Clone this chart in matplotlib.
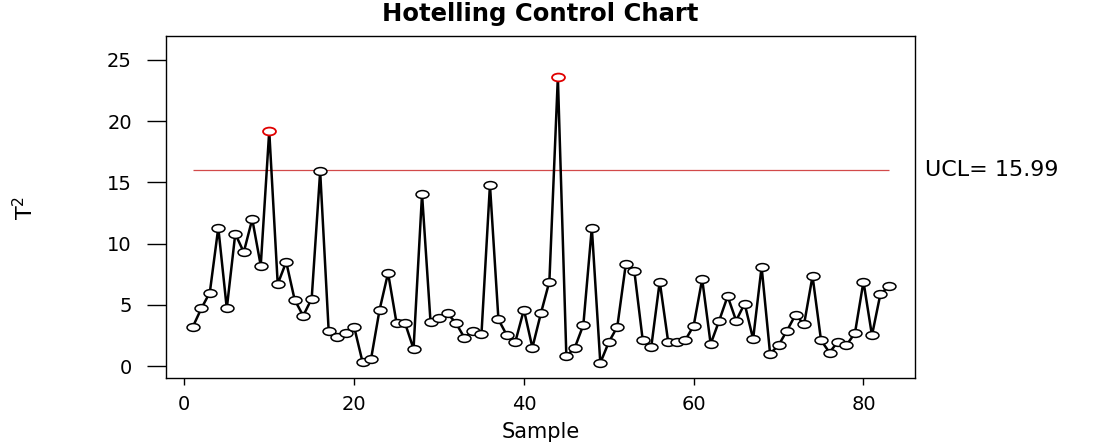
import numpy as np
import matplotlib
matplotlib.use("Agg")
import matplotlib.pyplot as plt
from matplotlib.path import Path
from matplotlib.transforms import Affine2D

# ---- data ----
samples = list(range(1, 84))
t2 = [3.2, 4.7, 6.0, 11.3, 4.7, 10.8, 9.3, 12.0, 8.2, 19.2,
      6.7, 8.5, 5.4, 4.1, 5.5, 15.9, 2.9, 2.4, 2.7, 3.2,
      0.3, 0.6, 4.6, 7.6, 3.5, 3.5, 1.4, 14.05, 3.6, 3.9,
      4.3, 3.5, 2.3, 2.9, 2.6, 14.8, 3.8, 2.5, 2.0, 4.6,
      1.5, 4.3, 6.9, 23.6, 0.8, 1.5, 3.35, 11.3, 0.25, 1.95,
      3.2, 8.3, 7.8, 2.1, 1.55, 6.9, 1.95, 1.95, 2.1, 3.3,
      7.1, 1.8, 3.7, 5.7, 3.7, 5.1, 2.2, 8.1, 1.0, 1.7,
      2.9, 4.2, 3.4, 7.35, 2.1, 1.1, 2.0, 1.7, 2.7, 6.9,
      2.5, 5.9, 6.5]
ucl = 15.99
x_ticks = [0, 20, 40, 60, 80]
y_ticks = [0, 5, 10, 15, 20, 25]

plt.rcParams['font.family'] = ['DejaVu Sans']

W, H = 1102, 443
fig = plt.figure(figsize=(W / 100, H / 100), dpi=100)
ax = fig.add_axes([166 / W, 1 - 378 / H, (915 - 166) / W, (378 - 36) / H])

ell = Path.unit_circle().transformed(Affine2D().scale(1.65, 1.0))

s = np.array(samples)
v = np.array(t2)
ax.plot(s, v, color='black', lw=1.8, zorder=2)
ax.hlines(ucl, s.min(), s.max(), color='#d24a4a', lw=0.9, zorder=1)
inc = v <= ucl
ax.plot(s[inc], v[inc], ls='none', marker=ell, ms=9.3, mfc='white',
        mec='black', mew=1.1, zorder=3)
ax.plot(s[~inc], v[~inc], ls='none', marker=ell, ms=9.3, mfc='white',
        mec='#e00000', mew=1.3, zorder=3)

ax.set_xlim(-2.16, 86.07)
ax.set_ylim(-0.98, 26.96)
ax.set_xticks(x_ticks)
ax.set_yticks(y_ticks)
ax.tick_params(axis='x', direction='out', length=5, width=1, labelsize=14, pad=7)
ax.tick_params(axis='y', direction='out', length=13.5, width=1, labelsize=14, pad=11)
for sp in ax.spines.values():
    sp.set_linewidth(1.0)

cx = (166 + 915) / 2 / W
fig.text(cx, 1 - 14 / H, 'Hotelling Control Chart', fontsize=17.5,
         fontweight='bold', ha='center', va='center')
fig.text(cx, 1 / H, 'Sample', fontsize=15, ha='center', va='bottom')
fig.text(25 / W, 1 - 208 / H, 'T$^2$', fontsize=16, rotation=90,
         ha='center', va='center')
ax.text(1.013, ucl, 'UCL= 15.99', transform=ax.get_yaxis_transform(),
        fontsize=16, va='center', ha='left', clip_on=False)

fig.savefig('out.png', dpi=100)
